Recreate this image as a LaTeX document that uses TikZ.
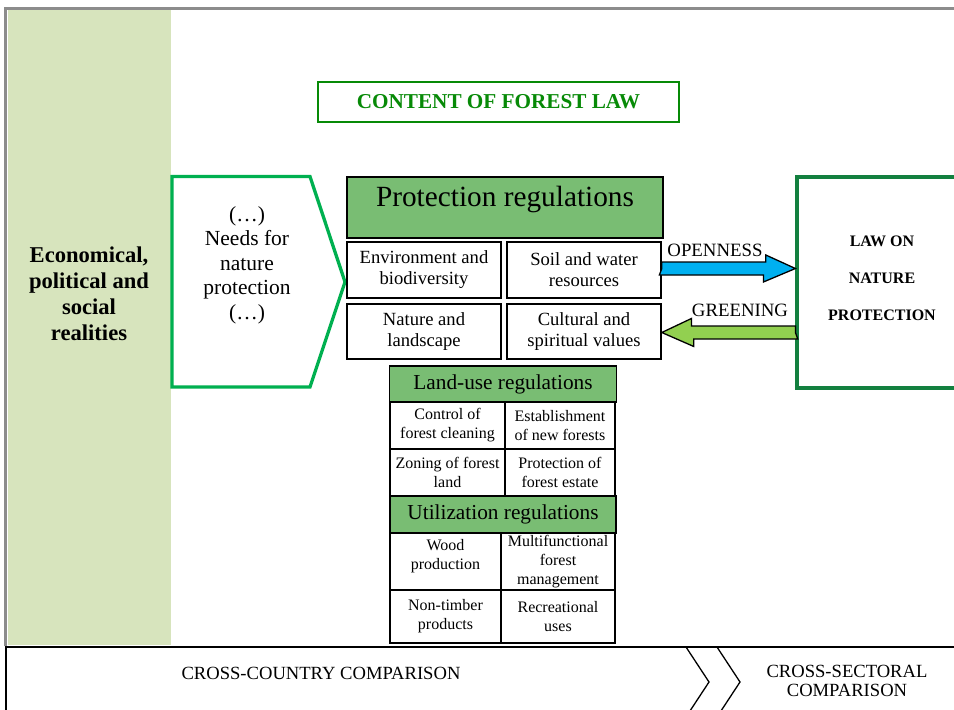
\documentclass[tikz,border=0pt]{standalone}
\usepackage{fontspec}
\setmainfont{Liberation Serif}
\usetikzlibrary{arrows.meta, positioning, calc}

\definecolor{panelgreen}{HTML}{D7E4BD}
\definecolor{framegray}{HTML}{8C8C8C}
\definecolor{titlegreen}{HTML}{078A07}
\definecolor{needsgreen}{HTML}{00B050}
\definecolor{regfill}{HTML}{79BD73}
\definecolor{openblue}{HTML}{00B0F0}
\definecolor{greenarrow}{HTML}{92D050}
\definecolor{lawgreen}{HTML}{13803F}

\begin{document}
\begin{tikzpicture}[x=1pt,y=-1pt,
    regbox/.style={draw,line width=1.6pt,fill=regfill,inner sep=0pt,font=\fontsize{21.3}{24}\selectfont},
    subbox/.style={draw,line width=1.6pt,fill=white,inner sep=0pt,align=center,font=\fontsize{18.6}{21}\selectfont},
    smallbox/.style={draw,line width=1.6pt,fill=white,inner sep=0pt,align=center,font=\fontsize{16}{19}\selectfont},
    fatarrow/.style={draw,line width=1.3pt,line join=miter},
    arrowlbl/.style={font=\fontsize{18.8}{21}\selectfont}]
                \useasboundingbox (0,0) rectangle (954,710);
                \clip (0,0) rectangle (954,710);
                \fill[white] (0,0) rectangle (954,710);

                % Frame and realities panel
                \fill[panelgreen] (8,10) rectangle (171,645);
                \draw[framegray,line width=2.5pt] (5.5,646) |- (980,8.5);
                \node[align=center,font=\bfseries\fontsize{22.6}{26}\selectfont] (realities) at (89,294) {Economical,\\political and\\social\\realities};

                % Title
                \node[draw=titlegreen,line width=2.7pt,minimum width=361,minimum height=40,text=titlegreen,font=\bfseries\fontsize{21.2}{24}\selectfont] (title) at (498.5,102) {CONTENT OF FOREST LAW};

                % Needs
                \draw[needsgreen,line width=3.3pt,line join=miter] (172,176.5) -- (310,176.5) -- (345,282) -- (310,387) -- (172,387) -- cycle;
                \node[align=center,font=\fontsize{21.5}{24.5}\selectfont] (needs) at (247,265) {(…)\\Needs for\\nature\\protection\\(…)};

                % Protection regulations
                \node[regbox,minimum width=316,minimum height=61,text height=20pt,text depth=23pt,font=\fontsize{29.3}{32}\selectfont] (protect) at (505,207.5) {Protection regulations};
                \node[subbox,minimum width=154,minimum height=56] (envbio) at (424,270) {Environment and\\biodiversity};
                \node[subbox,minimum width=154,minimum height=56] (soilwater) at (584,270) {Soil and water\\resources};
                \node[subbox,minimum width=154,minimum height=55] (natland) at (424,331.5) {Nature and\\landscape};
                \node[subbox,minimum width=154,minimum height=55] (cultural) at (584,331.5) {Cultural and\\spiritual values};

                % Land-use regulations
                \node[regbox,minimum width=227,minimum height=36] (landuse) at (503,384) {Land-use regulations};
                \node[smallbox,minimum width=115,minimum height=47] (cleaning) at (447.5,425.5) {Control of\\forest cleaning};
                \node[smallbox,minimum width=110,minimum height=47] (newforest) at (560,425.5) {Establishment\\of new forests};
                \node[smallbox,minimum width=115,minimum height=47] (zoning) at (447.5,472.5) {Zoning of forest\\land};
                \node[smallbox,minimum width=110,minimum height=47] (estate) at (560,472.5) {Protection of\\forest estate};

                % Utilization regulations
                \node[regbox,minimum width=226,minimum height=36.5] (utilization) at (503,514.5) {Utilization regulations};
                \node[smallbox,minimum width=111,minimum height=57,text depth=14pt] (wood) at (445.5,561.5) {Wood\\production};
                \node[smallbox,minimum width=114,minimum height=57] (multifn) at (558,561.5) {Multifunctional\\forest\\management};
                \node[smallbox,minimum width=111,minimum height=53] (nontimber) at (445.5,616.5) {Non-timber\\products};
                \node[smallbox,minimum width=114,minimum height=53] (recreation) at (558,616.5) {Recreational\\uses};

                % Law on nature protection
                \node[draw=lawgreen,line width=3.2pt,minimum width=170,minimum height=211,align=center,text depth=8pt,font=\bfseries\fontsize{16}{37}\selectfont] (law) at (882,282.5) {LAW ON\\NATURE\\PROTECTION};

                % Openness and greening
                \coordinate (opentail) at ([yshift=1.5pt]soilwater.east);
                \coordinate (opentip) at ([yshift=14pt]law.west);
                \draw[fatarrow,fill=openblue] (opentail) -- ++(0,-6.5) -- ++(104,0) -- ++(0,-7) -- (opentip) -- ++(-32,13.5) -- ++(0,-7) -- ++(-104,0) -- cycle;
                \node[arrowlbl] (opennesslbl) at (715,250) {OPENNESS};
                \coordinate (greentail) at ([yshift=-50pt]law.west);
                \coordinate (greentip) at ([yshift=-1pt]cultural.east);
                \draw[fatarrow,fill=greenarrow] (greentail) -- ++(0,-6.5) -- ++(-104,0) -- ++(0,-7.5) -- (greentip) -- ++(32,14) -- ++(0,-7.5) -- ++(104,0) -- cycle;
                \node[arrowlbl] (greeninglbl) at (740,310) {GREENING};

                % Comparison band
                \draw[line width=2pt] (6,720) |- (980,647);
                \node[font=\fontsize{18.6}{19}\selectfont] (crosscountry) at (321,673) {CROSS-COUNTRY COMPARISON};
                \draw[line width=1.3pt] (686,647) -- (709,682) -- (686,717);
                \draw[line width=1.3pt] (717,647) -- (740,682) -- (717,717);
                \node[align=center,font=\fontsize{18.6}{19}\selectfont] (crosssector) at (847,681) {CROSS-SECTORAL\\COMPARISON};
            \end{tikzpicture}
\end{document}
